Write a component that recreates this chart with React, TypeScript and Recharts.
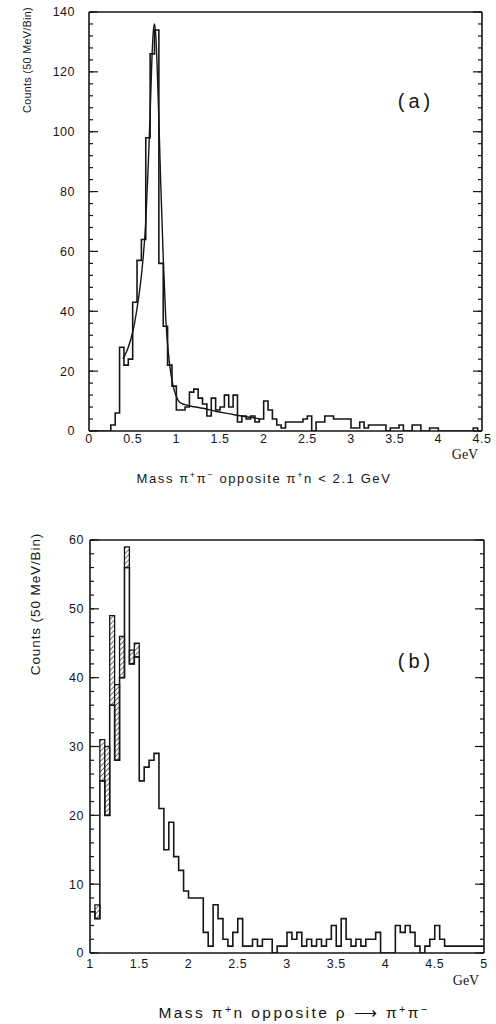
import { ComposedChart, Line, XAxis, YAxis, ReferenceArea } from "recharts";

const BIN = 0.05;
const ink = "#161616";
const sans = "'Liberation Sans', Arial, Helvetica, sans-serif";

// ---- panel (a): pi+ pi- mass, bins of 50 MeV from 0 to 4.5 GeV
const aStart = 0;
const aCounts = [
  0, 0, 0, 0, 0, 2, 6, 28, 22, 24,
  43, 57, 64, 98, 126, 134, 56, 35, 22, 15,
  7, 7, 8, 13, 14, 11, 9, 5, 11, 7,
  8, 12, 8, 12, 3, 5, 4, 5, 3, 4,
  10, 7, 4, 2, 1, 3, 3, 3, 3, 4,
  5, 0, 3, 3, 5, 5, 4, 4, 4, 4,
  1, 1, 3, 1, 2, 2, 2, 2, 0, 1,
  1, 2, 0, 0, 2, 2, 0, 0, 1, 1,
  0, 0, 0, 0, 0, 0, 0, 0, 1, 0,
];
const aFitMass = [
  0.39, 0.45, 0.5, 0.55, 0.6, 0.65, 0.68, 0.7, 0.72, 0.735, 0.75, 0.765,
  0.78, 0.8, 0.82, 0.85, 0.88, 0.92, 0.96, 1.0, 1.04, 1.1, 1.2, 1.3, 1.45,
  1.6, 1.75, 1.95,
];
const aFitCounts = [
  24, 28, 33, 41, 52, 70, 90, 106, 124, 133, 136, 132,
  122, 104, 84, 58, 37, 23, 15.5, 11.5, 9.5, 8.8, 8.1, 7.6, 6.6,
  5.8, 5.0, 4.1,
];
const aXTicks = [0, 0.5, 1, 1.5, 2, 2.5, 3, 3.5, 4, 4.5];
const aYTicks = [0, 20, 40, 60, 80, 100, 120, 140];

// ---- panel (b): pi+ n mass, bins of 50 MeV from 1 to 5 GeV
const bStart = 1;
const bCounts = [
  6, 5, 25, 20, 36, 28, 40, 56, 42, 43,
  25, 27, 28, 29, 21, 15, 19, 14, 12, 9,
  8, 8, 8, 3, 1, 7, 5, 2, 1, 3,
  5, 1, 1, 2, 1, 2, 2, 0, 1, 1,
  3, 2, 3, 1, 2, 1, 2, 1, 2, 4,
  1, 5, 2, 1, 2, 1, 2, 2, 3, 0,
  0, 0, 4, 3, 4, 3, 1, 0, 1, 2,
  4, 2, 1, 1, 1, 1, 1, 1, 1, 1,
];
const bHatchMass = [1.05, 1.1, 1.15, 1.2, 1.25, 1.3, 1.35, 1.4, 1.45];
const bHatchLow = [5, 25, 20, 36, 28, 40, 56, 42, 43];
const bHatchHigh = [7, 31, 30, 49, 39, 46, 59, 44, 45];
const bXTicks = [1, 1.5, 2, 2.5, 3, 3.5, 4, 4.5, 5];
const bYTicks = [0, 10, 20, 30, 40, 50, 60];

const r6 = (v: number) => Math.round(v * 1e6) / 1e6;
const range = (a: number, b: number, s: number) => {
  const out: number[] = [];
  for (let v = a; v <= b + 1e-9; v += s) out.push(r6(v));
  return out;
};

// histogram outline points for a stepAfter line
const steps = (start: number, counts: number[]) => {
  const pts = counts.map((c, i) => ({ m: r6(start + i * BIN), c }));
  pts.push({ m: r6(start + counts.length * BIN), c: counts[counts.length - 1] });
  return pts;
};

const aHist = steps(aStart, aCounts);
const aFit = aFitMass.map((m, i) => ({ m, c: aFitCounts[i] }));
const bHist = steps(bStart, bCounts);

// tick marks only, no label (tick={false} would drop the marks too)
const noLabel = () => <g />;

interface FrameOpts {
  xDomain: [number, number];
  yDomain: [number, number];
  xMajor: number[];
  xMinor: number[];
  yMajor: number[];
  yMinor: number[];
  xMargin: number;
  yMargin: number;
  font: number;
}

function frameAxes(o: FrameOpts) {
  const frame = { stroke: ink, strokeWidth: 1.6 };
  const tl = { stroke: ink, strokeWidth: 1.2 };
  const tick = { fill: ink, fontSize: o.font, fontFamily: sans, letterSpacing: 0.5 };
  const common = { type: "number" as const, allowDataOverflow: true, interval: 0 as const };
  return [
    <XAxis key="x" xAxisId="x" dataKey="m" {...common} domain={o.xDomain} ticks={o.xMajor}
      height={20} tickSize={0} tickMargin={o.xMargin} tickLine={false} axisLine={frame} tick={tick} />,
    <XAxis key="xb1" xAxisId="xb1" {...common} domain={o.xDomain} ticks={o.xMinor}
      mirror height={1} tickSize={4} tickLine={tl} axisLine={false} tick={noLabel} />,
    <XAxis key="xb2" xAxisId="xb2" {...common} domain={o.xDomain} ticks={o.xMajor}
      mirror height={1} tickSize={8} tickLine={tl} axisLine={false} tick={noLabel} />,
    <XAxis key="xt1" xAxisId="xt1" orientation="top" {...common} domain={o.xDomain} ticks={o.xMinor}
      mirror height={1} tickSize={4} tickLine={tl} axisLine={frame} tick={noLabel} />,
    <XAxis key="xt2" xAxisId="xt2" orientation="top" {...common} domain={o.xDomain} ticks={o.xMajor}
      mirror height={1} tickSize={8} tickLine={tl} axisLine={false} tick={noLabel} />,
    <YAxis key="y" yAxisId="y" {...common} domain={o.yDomain} ticks={o.yMajor}
      width={50} tickSize={0} tickMargin={o.yMargin} tickLine={false} axisLine={frame} tick={tick} />,
    <YAxis key="yl1" yAxisId="yl1" {...common} domain={o.yDomain} ticks={o.yMinor}
      mirror width={1} tickSize={4} tickLine={tl} axisLine={false} tick={noLabel} />,
    <YAxis key="yl2" yAxisId="yl2" {...common} domain={o.yDomain} ticks={o.yMajor}
      mirror width={1} tickSize={8} tickLine={tl} axisLine={false} tick={noLabel} />,
    <YAxis key="yr1" yAxisId="yr1" orientation="right" {...common} domain={o.yDomain} ticks={o.yMinor}
      mirror width={1} tickSize={4} tickLine={tl} axisLine={frame} tick={noLabel} />,
    <YAxis key="yr2" yAxisId="yr2" orientation="right" {...common} domain={o.yDomain} ticks={o.yMajor}
      mirror width={1} tickSize={8} tickLine={tl} axisLine={false} tick={noLabel} />,
  ];
}

const abs = (left: number, top: number, extra: React.CSSProperties = {}): React.CSSProperties => ({
  position: "absolute",
  left,
  top,
  whiteSpace: "nowrap",
  color: ink,
  fontFamily: sans,
  lineHeight: 1,
  transform: "translate(-50%, -50%)",
  ...extra,
});

const sup: React.CSSProperties = { fontSize: "0.7em", verticalAlign: "0.45em", lineHeight: 0 };

export default function App() {
  return (
    <div style={{ position: "absolute", left: 0, top: 0, width: 496, height: 1024, background: "#fff", overflow: "hidden" }}>
      <svg width={0} height={0} style={{ position: "absolute" }}>
        <defs>
          <pattern id="hatch" width={3.6} height={3.6} patternUnits="userSpaceOnUse" patternTransform="rotate(45)">
            <rect width={3.6} height={3.6} fill="#fff" />
            <line x1={0} y1={0} x2={0} y2={3.6} stroke={ink} strokeWidth={1.2} />
          </pattern>
        </defs>
      </svg>

      {/* panel (a) */}
      <div style={{ position: "absolute", left: 0, top: 0 }}>
        <ComposedChart width={496} height={465} margin={{ top: 12, right: 14, left: 39, bottom: 14 }}>
          {frameAxes({
            xDomain: [0, 4.5],
            yDomain: [0, 140],
            xMajor: aXTicks,
            xMinor: range(0, 4.5, 0.125),
            yMajor: aYTicks,
            yMinor: range(0, 140, 4),
            xMargin: 3,
            yMargin: 14,
            font: 12.5,
          })}
          <Line xAxisId="x" yAxisId="y" data={aHist} dataKey="c" type="stepAfter" dot={false}
            stroke={ink} strokeWidth={1.6} isAnimationActive={false} />
          <Line xAxisId="x" yAxisId="y" data={aFit} dataKey="c" type="monotone" dot={false}
            stroke={ink} strokeWidth={1.4} isAnimationActive={false} />
        </ComposedChart>
      </div>
      <div style={abs(27, 60, { fontSize: 10.8, letterSpacing: 0.3, transform: "translate(-50%, -50%) rotate(-90deg)" })}>
        Counts (50 MeV/Bin)
      </div>
      <div style={abs(416, 101, { fontSize: 20, letterSpacing: 4 })}>(a)</div>
      <div style={abs(465, 455, { fontSize: 14, fontFamily: "'Liberation Serif', 'Times New Roman', serif" })}>GeV</div>
      <div style={abs(264, 478, { fontSize: 13, letterSpacing: 1.6 })}>
        Mass π<span style={sup}>+</span>π<span style={sup}>−</span> opposite π<span style={sup}>+</span>n &lt; 2.1 GeV
      </div>

      {/* panel (b) */}
      <div style={{ position: "absolute", left: 0, top: 520 }}>
        <ComposedChart width={496} height={470} margin={{ top: 20, right: 12, left: 40, bottom: 17 }}>
          {frameAxes({
            xDomain: [1, 5],
            yDomain: [0, 60],
            xMajor: bXTicks,
            xMinor: range(1, 5, 0.1),
            yMajor: bYTicks,
            yMinor: range(0, 60, 2),
            xMargin: 6,
            yMargin: 6,
            font: 12.5,
          })}
          {bHatchMass.map((m, i) => (
            <ReferenceArea key={i} xAxisId="x" yAxisId="y" x1={m} x2={r6(m + BIN)}
              y1={bHatchLow[i]} y2={bHatchHigh[i]} fill="url(#hatch)" fillOpacity={1}
              stroke={ink} strokeWidth={1.3} />
          ))}
          <Line xAxisId="x" yAxisId="y" data={bHist} dataKey="c" type="stepAfter" dot={false}
            stroke={ink} strokeWidth={1.6} isAnimationActive={false} />
        </ComposedChart>
      </div>
      <div style={abs(36, 604, { fontSize: 13.5, letterSpacing: 0.9, transform: "translate(-50%, -50%) rotate(-90deg)" })}>
        Counts (50 MeV/Bin)
      </div>
      <div style={abs(416, 661, { fontSize: 20, letterSpacing: 4 })}>(b)</div>
      <div style={abs(466, 981, { fontSize: 14, fontFamily: "'Liberation Serif', 'Times New Roman', serif" })}>GeV</div>
      <div style={abs(294, 1013, { fontSize: 15.5, letterSpacing: 2.4 })}>
        Mass π<span style={sup}>+</span>n opposite ρ ⟶ π<span style={sup}>+</span>π<span style={sup}>−</span>
      </div>
    </div>
  );
}
